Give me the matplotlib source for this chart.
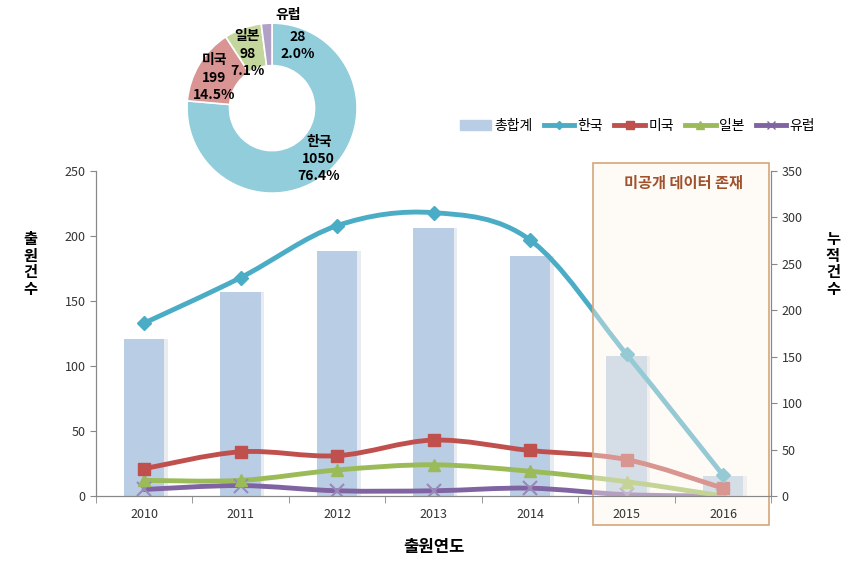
import matplotlib
matplotlib.use("Agg")
from matplotlib import pyplot as plt
from matplotlib.path import Path
from matplotlib.patches import PathPatch, Rectangle, Patch
from matplotlib.lines import Line2D

plt.rcParams["font.family"] = ["Noto Sans CJK KR", "DejaVu Sans"]

years = ["2010", "2011", "2012", "2013", "2014", "2015", "2016"]
total = [169, 220, 264, 289, 258, 151, 22]
korea = [133, 168, 208, 218, 197, 109, 16]
usa = [21, 34, 31, 43, 35, 28, 6]
japan = [12, 12, 20, 24, 19, 11, 0]
europe = [5, 8, 4, 4, 6, 1, 0]

pie_names = ["한국", "미국", "일본", "유럽"]
pie_values = [1050, 199, 98, 28]
pie_pcts = ["76.4%", "14.5%", "7.1%", "2.0%"]

c_bar = "#B9CDE5"
c_kr = "#4BACC6"
c_us = "#C0504D"
c_jp = "#9BBB59"
c_eu = "#8064A2"


def smooth_path(xs, ys):
    # Excel-like smoothed line: cubic bezier through points (Catmull-Rom tangents)
    n = len(xs)
    verts = [(xs[0], ys[0])]
    codes = [Path.MOVETO]
    for i in range(n - 1):
        x0, y0 = xs[max(i - 1, 0)], ys[max(i - 1, 0)]
        x1, y1 = xs[i], ys[i]
        x2, y2 = xs[i + 1], ys[i + 1]
        x3, y3 = xs[min(i + 2, n - 1)], ys[min(i + 2, n - 1)]
        c1 = (x1 + (x2 - x0) / 6, y1 + (y2 - y0) / 6)
        c2 = (x2 - (x3 - x1) / 6, y2 - (y3 - y1) / 6)
        verts += [c1, c2, (x2, y2)]
        codes += [Path.CURVE4] * 3
    return Path(verts, codes)


fig = plt.figure(figsize=(8.56, 5.68), dpi=100)
ax = fig.add_axes([0.112, 0.1268, 0.789, 0.572])
ax2 = ax.twinx()
ax.set_zorder(ax2.get_zorder() + 1)
ax.patch.set_visible(False)
ax.set_axisbelow(False)

x = list(range(len(years)))

# bars on the right axis, with a light shadow
ax2.bar([i + 0.035 for i in x], total, width=0.42, color="#E8EBEF", zorder=1)
ax2.bar(x, total, width=0.42, color=c_bar, zorder=2)
ax2.set_ylim(0, 350)
ax2.set_yticks(range(0, 351, 50))

series = [
    (korea, c_kr, "D", 7, "한국"),
    (usa, c_us, "s", 9, "미국"),
    (japan, c_jp, "^", 9, "일본"),
    (europe, c_eu, "x", 10, "유럽"),
]
for vals, col, mk, ms, name in series[::-1]:
    ax.add_patch(PathPatch(smooth_path(x, vals), facecolor="none",
                           edgecolor=col, lw=3.5, capstyle="round"))
    if mk == "x":
        ax.plot(x, vals, linestyle="none", marker=mk, ms=ms, mew=1.5,
                color="#9A88B8")
    else:
        ax.plot(x, vals, linestyle="none", marker=mk, ms=ms, color=col,
                mec=col)

ax.set_xlim(-0.5, 6.5)
ax.set_ylim(0, 250)
ax.set_yticks(range(0, 251, 50))
ax.set_xticks(x)
ax.set_xticklabels(years)
ax.set_xticks([i - 0.5 for i in range(8)], minor=True)
ax.tick_params(axis="x", which="major", length=0, pad=9, labelsize=9,
               labelcolor="#333333")
ax.tick_params(axis="x", which="minor", length=5, color="#888888")
ax.tick_params(axis="y", length=4, color="#888888", labelsize=9,
               labelcolor="#333333")
ax2.tick_params(axis="y", length=4, color="#888888", labelsize=9,
                labelcolor="#333333")

for a in (ax, ax2):
    a.spines["top"].set_visible(False)
    for s in ("left", "right", "bottom"):
        a.spines[s].set_color("#888888")

ax.set_xlabel("출원연도", fontsize=12, fontweight="bold", labelpad=12)
fig.text(0.035, 0.535, "출\n원\n건\n수", fontsize=11, fontweight="bold",
         ha="center", va="center", linespacing=1.05)
fig.text(0.973, 0.535, "누\n적\n건\n수", fontsize=11, fontweight="bold",
         ha="center", va="center", linespacing=1.05)

# non-public data box: over the lines, under the tick labels
ax.add_patch(Rectangle((0.6928, 0.0757), 0.2056, 0.637,
                       transform=fig.transFigure, clip_on=False,
                       facecolor=(0.996, 0.96, 0.92, 0.42),
                       edgecolor="#D4A77A", lw=1.2, zorder=2.4))
fig.text(0.798, 0.678, "미공개 데이터 존재", fontsize=11, fontweight="bold",
         style="italic", color="#A0522D", ha="center", va="center", zorder=6)

# legend
handles = [Patch(color=c_bar, label="총합계")]
for vals, col, mk, ms, name in series:
    handles.append(Line2D([], [], color=col, lw=3.5, marker=mk,
                          ms=ms * 0.6, label=name))
fig.legend(handles=handles, loc="center", bbox_to_anchor=(0.745, 0.778),
           ncol=5, frameon=False, fontsize=10, handlelength=2.2,
           columnspacing=0.8, handletextpad=0.25)

# donut
pax = fig.add_axes([0.2185, 0.660, 0.1986, 0.2993])
pax.pie(pie_values, colors=["#92CDDC", "#D99594", "#C3D69B", "#B2A1C7"],
        startangle=90, counterclock=False,
        wedgeprops=dict(width=0.5, edgecolor="white", linewidth=1.2))
pax.set_xlim(-1.0, 1.0)
pax.set_ylim(-1.0, 1.0)
pax.set_aspect("equal")
pax.text(0.55, -0.6, "%s\n%d\n%s" % (pie_names[0], pie_values[0], pie_pcts[0]),
         ha="center", va="center", fontsize=10, fontweight="bold",
         linespacing=1.3)
pax.text(-0.68, 0.36, "%s\n%d\n%s" % (pie_names[1], pie_values[1], pie_pcts[1]),
         ha="center", va="center", fontsize=10, fontweight="bold",
         linespacing=1.3)
pax.text(-0.29, 0.64, "%s\n%d\n%s" % (pie_names[2], pie_values[2], pie_pcts[2]),
         ha="center", va="center", fontsize=10, fontweight="bold",
         linespacing=1.3)
pax.text(0.19, 1.1, pie_names[3], ha="center", va="center", fontsize=10,
         fontweight="bold")
pax.text(0.3, 0.74, "%d\n%s" % (pie_values[3], pie_pcts[3]), ha="center",
         va="center", fontsize=10, fontweight="bold", linespacing=1.3)

fig.savefig("out.png", dpi=100)
